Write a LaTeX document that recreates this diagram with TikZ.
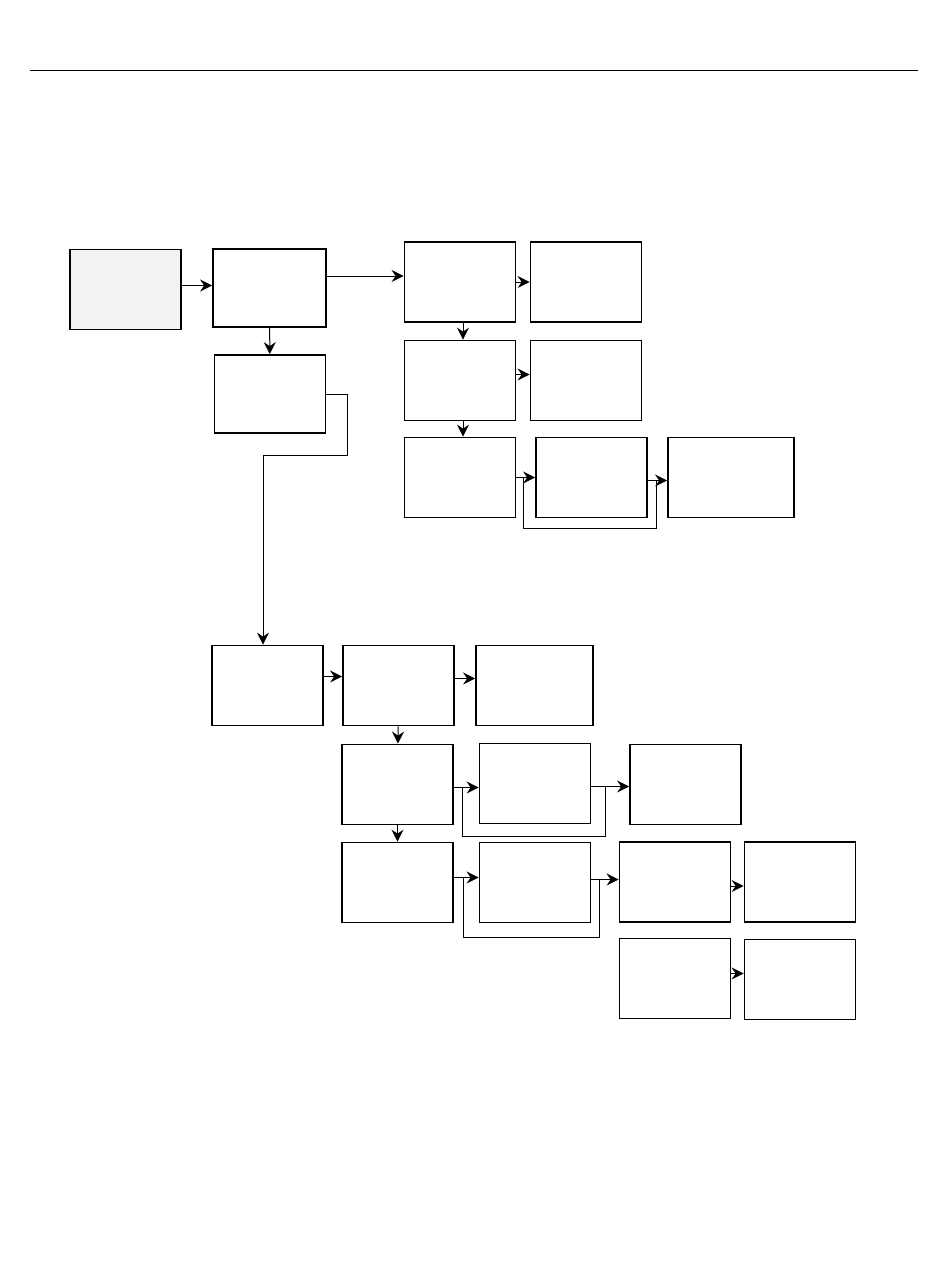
\documentclass[tikz,border=0pt]{standalone}
\usepackage{tikz}
\usetikzlibrary{arrows.meta,positioning}

\begin{document}
\begin{tikzpicture}[x=1pt,y=-1pt,
box/.style={draw,line width=1.8pt,minimum width=111pt,minimum height=80pt,inner sep=0pt},
arr/.style={-{Stealth[length=12pt,width=12pt,inset=4pt]},line width=1pt},
link/.style={line width=1pt}]
\useasboundingbox (0,0) rectangle (950,1267);
\draw[line width=1pt] (30,70) -- (918,70);

% upper branch
\node[box,fill=black!5] (start) at (125.5,289.5) {};
\node[box,minimum width=113pt,minimum height=78pt] (main) at (269.5,288) {};
\node[box,minimum height=78pt] (side) at (270,394) {};
\node[box] (up1) at (460,282) {};
\node[box] (up1r) at (586,282) {};
\node[box] (up2) at (460,380.5) {};
\node[box] (up2r) at (586,380.5) {};
\node[box] (up3) at (460,477.5) {};
\node[box] (up3m) at (591.5,477.5) {};
\node[box,minimum width=126pt] (up3r) at (731,477.5) {};
\draw[arr] ([yshift=4pt]start.east) -- ([yshift=4pt]start.east -| main.west);
\draw[arr] (main) -- (side);
\draw[arr] ([yshift=12pt]main.east) -- ([yshift=12pt]main.east -| up1.west);
\draw[arr] (up1) -- (up1r);
\draw[arr] ([xshift=3pt]up1.south) -- ([xshift=3pt]up2.north);
\draw[arr] ([yshift=6pt]up2.east) -- ([yshift=6pt]up2r.west);
\draw[arr] ([xshift=3pt]up2.south) -- ([xshift=3pt]up3.north);
\draw[arr] (up3) -- (up3m);
\draw[arr] ([yshift=-3pt]up3m.east) -- ([yshift=-3pt]up3r.west);
\draw[link] ([xshift=7pt]up3.east) -- ++(0,51) -| ([xshift=9pt,yshift=-3pt]up3m.east);

% lower branch
\node[box] (low1) at (267.5,685.5) {};
\node[box] (low2) at (398.5,685.5) {};
\node[box,minimum width=117pt] (low3) at (534.5,685.5) {};
\node[box] (mid1) at (397.5,784.5) {};
\node[box] (mid2) at (535,783.5) {};
\node[box] (mid3) at (685.5,784.5) {};
\node[box] (bot1) at (397.5,882.5) {};
\node[box] (bot2) at (535,882.5) {};
\node[box] (bot3) at (675,882) {};
\node[box] (bot4) at (800,882) {};
\node[box,line width=1.1pt] (end1) at (675,978.5) {};
\node[box] (end2) at (800,979.5) {};
\coordinate (bend) at (263,455);
\draw[arr,line width=0.8pt] (side.east) -- ++(21,0) |- (bend) -- (bend |- low1.north);
\draw[arr] ([yshift=9pt]low1.east) -- ([yshift=9pt]low2.west);
\draw[arr] ([yshift=7pt]low2.east) -- ([yshift=7pt]low3.west);
\draw[arr] (low2) -- (mid1);
\draw[arr] ([yshift=-3pt]mid1.east) -- ([yshift=-3pt]mid1.east -| mid2.west);
\draw[arr] ([yshift=-3pt]mid2.east) -- ([yshift=-3pt]mid2.east -| mid3.west);
\draw[link] ([xshift=9pt,yshift=-3pt]mid1.east) -- ++(0,49) -| ([xshift=14pt,yshift=-3pt]mid2.east);
\draw[arr] (mid1) -- (bot1);
\draw[arr] ([yshift=5pt]bot1.east) -- ([yshift=5pt]bot2.west);
\draw[arr] ([yshift=3pt]bot2.east) -- ([yshift=3pt]bot2.east -| bot3.west);
\draw[link] ([xshift=10pt,yshift=5pt]bot1.east) -- ++(0,60) -| ([xshift=8pt,yshift=3pt]bot2.east);
\draw[arr] ([yshift=-4pt]bot3.east) -- ([yshift=-4pt]bot3.east -| bot4.west);
\draw[arr] ([yshift=5pt]end1.east) -- ([yshift=5pt]end1.east -| end2.west);
\end{tikzpicture}
\end{document}
